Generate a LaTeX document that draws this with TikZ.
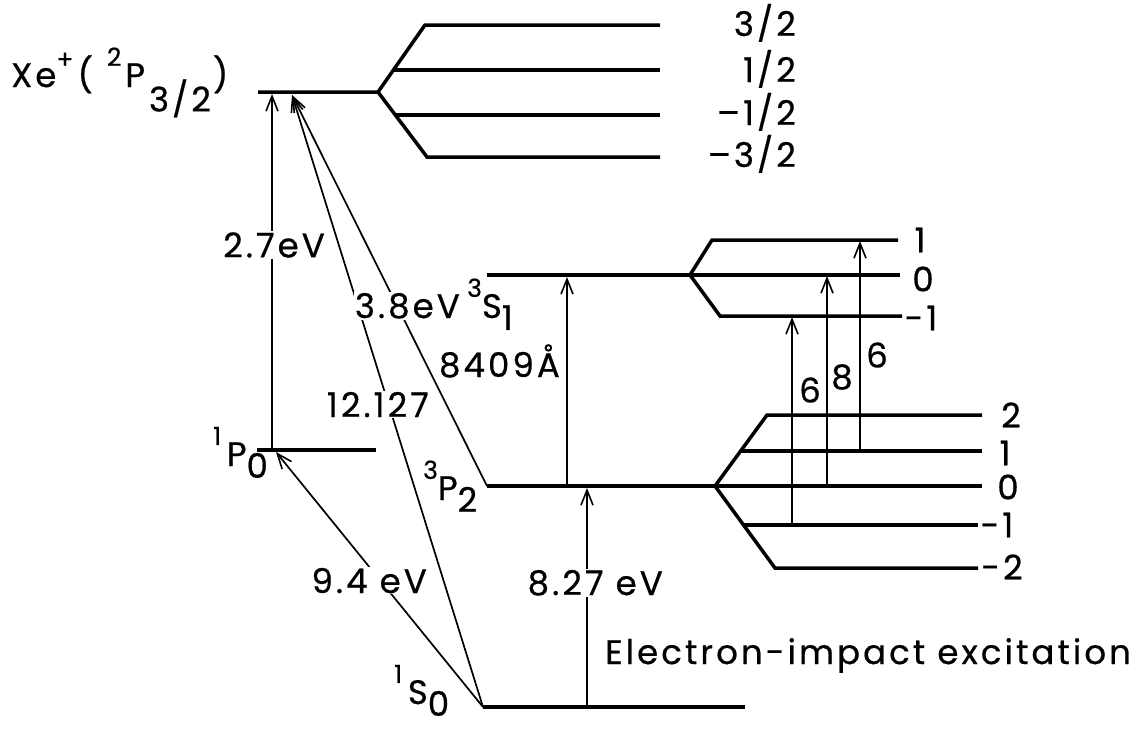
\documentclass[tikz,border=0pt]{standalone}
\usepackage{fontspec}
\setmainfont{Poppins}[LetterSpace=9,FakeBold=0.6]
\usetikzlibrary{arrows.meta}
\newcommand\upidx[2][0.62em]{\raisebox{#1}{\fontsize{25}{25}\selectfont #2}}
\newcommand\dnidx[2][-0.35em]{\raisebox{#1}{#2}}
\begin{document}
\begin{tikzpicture}[x=1pt,y=-1pt,
  lvl/.style={line width=3.5pt,line join=miter},
  trans/.style={line width=1.7pt,-{Straight Barb[length=15pt,width=12pt,line width=1.6pt]}},
  lab/.style={font=\fontsize{34}{38}\selectfont,inner sep=1pt},
  gaplab/.style={lab,fill=white}]
\useasboundingbox (0,0) rectangle (1131,732);
% --- coordinates of levels
\coordinate (xeL) at (258,92);   \coordinate (xeF) at (378,92);
\coordinate (xeT) at (425,25);   \coordinate (xeTe) at (660,25);
\coordinate (xeA) at (393,70);   \coordinate (xeAe) at (660,70);
\coordinate (xeC) at (396,115);  \coordinate (xeCe) at (660,115);
\coordinate (xeB) at (427,157);  \coordinate (xeBe) at (660,157);
\coordinate (p0L) at (257,450);  \coordinate (p0R) at (376,450);
\coordinate (s1L) at (487,275);  \coordinate (s1F) at (690,275);
\coordinate (s1Ze) at (900,275);
\coordinate (s1T) at (712,240);  \coordinate (s1Te) at (898,240);
\coordinate (s1B) at (720,316);  \coordinate (s1Be) at (902,316);
\coordinate (p2L) at (487,486);  \coordinate (p2F) at (715,486);
\coordinate (p2Ze) at (982,486);
\coordinate (p2T) at (767,415);  \coordinate (p2Te) at (982,415);
\coordinate (p2A) at (741,451);  \coordinate (p2Ae) at (982,451);
\coordinate (p2C) at (744,525);  \coordinate (p2Ce) at (978,525);
\coordinate (p2B) at (775,568);  \coordinate (p2Be) at (978,568);
\coordinate (s0L) at (483,707);  \coordinate (s0R) at (745,707);
% --- levels
\draw[lvl] (xeL) -- (xeF) -- (xeT) -- (xeTe);
\draw[lvl] (xeF) -- (xeB) -- (xeBe);
\draw[lvl] (xeA) -- (xeAe);
\draw[lvl] (xeC) -- (xeCe);
\draw[lvl] (p0L) -- (p0R);
\draw[lvl] (s1L) -- (s1F) -- (s1Ze);
\draw[lvl] (s1F) -- (s1T) -- (s1Te);
\draw[lvl] (s1F) -- (s1B) -- (s1Be);
\draw[lvl] (p2L) -- (p2F) -- (p2Ze);
\draw[lvl] (p2F) -- (p2T) -- (p2Te);
\draw[lvl] (p2A) -- (p2Ae);
\draw[lvl] (p2C) -- (p2Ce);
\draw[lvl] (p2F) -- (p2B) -- (p2Be);
\draw[lvl] (s0L) -- (s0R);
% --- transition end points
\coordinate (a27b) at (272,450); \coordinate (a27t) at (272,94);
\coordinate (xeHit) at (292,95);
\coordinate (p0Hit) at (276,452);
\coordinate (a84b) at (567,486); \coordinate (a84t) at (567,277);
\coordinate (a82b) at (587,707); \coordinate (a82t) at (587,488);
\coordinate (z1b) at (792,525);  \coordinate (z1t) at (792,317);
\coordinate (z2b) at (827,486);  \coordinate (z2t) at (827,276);
\coordinate (z3b) at (860,451);  \coordinate (z3t) at (860,241);
% --- transitions
\draw[trans] (a27b) -- (a27t);
\draw[trans] (s0L) -- (p0Hit);
\draw[trans] (s0L) -- (xeHit);
\draw[trans] (p2L) -- (xeHit);
\draw[trans] (a84b) -- (a84t);
\draw[trans] (a82b) -- (a82t);
\draw[trans] (z1b) -- (z1t);
\draw[trans] (z2b) -- (z2t);
\draw[trans] (z3b) -- (z3t);
% --- labels
\node[lab,anchor=base west] (lxe) at (10,87) {Xe\upidx[0.55em]{+}\hspace{4pt}(\hspace{14pt}\upidx{2}\hspace{4pt}P\hspace{4pt}\dnidx[-0.72em]{3/2}\hspace{2pt})};
\node[lab,anchor=base west] (lp0) at (212,466) {\upidx{1}\,P\dnidx{0}};
\node[lab,anchor=base west] (lp2) at (422,500) {\upidx{3}P\dnidx{2}};
\node[lab,anchor=base west] (ls1) at (466,318) {\upidx{3}S\dnidx{1}};
\node[lab,anchor=base west] (ls0) at (393,704) {\upidx{1}\,S\dnidx{0}};
\node[gaplab] (l27) at (274,245) {2.7eV};
\node[gaplab,anchor=base east] (l38) at (461,318) {3.8eV};
\node[lab,anchor=base east] (l84) at (561,377) {8409Å};
\node[gaplab,anchor=base east] (l12) at (430,417) {12.127};
\node[gaplab,anchor=base east] (l94) at (428,593) {9.4 eV};
\node[gaplab,anchor=base east] (l82) at (664,595) {8.27 eV};
\node[lab,anchor=base west] (lei) at (604,664) {Electron-impact excitation};
% Xe+ sublevels
\node[lab,anchor=base east] (m1) at (797,36) {3/2};
\node[lab,anchor=base east] (m2) at (797,82) {1/2};
\node[lab,anchor=base east] (m3) at (797,125) {–1/2};
\node[lab,anchor=base east] (m4) at (797,167) {–3/2};
% 3S1 sublevels
\node[lab] (s1m1) at (920,240) {1};
\node[lab] (s1m2) at (923,279) {0};
\node[lab] (s1m3) at (921,318) {-1};
% 3P2 sublevels
\node[lab] (p2m1) at (1011,415) {2};
\node[lab] (p2m2) at (1005,453) {1};
\node[lab] (p2m3) at (1008,487) {0};
\node[lab] (p2m4) at (997,525) {-1};
\node[lab] (p2m5) at (1002,567) {-2};
% relative intensities
\node[lab] (r1) at (810,390) {6};
\node[lab] (r2) at (842,377) {8};
\node[lab] (r3) at (877,355) {6};
\end{tikzpicture}
\end{document}
